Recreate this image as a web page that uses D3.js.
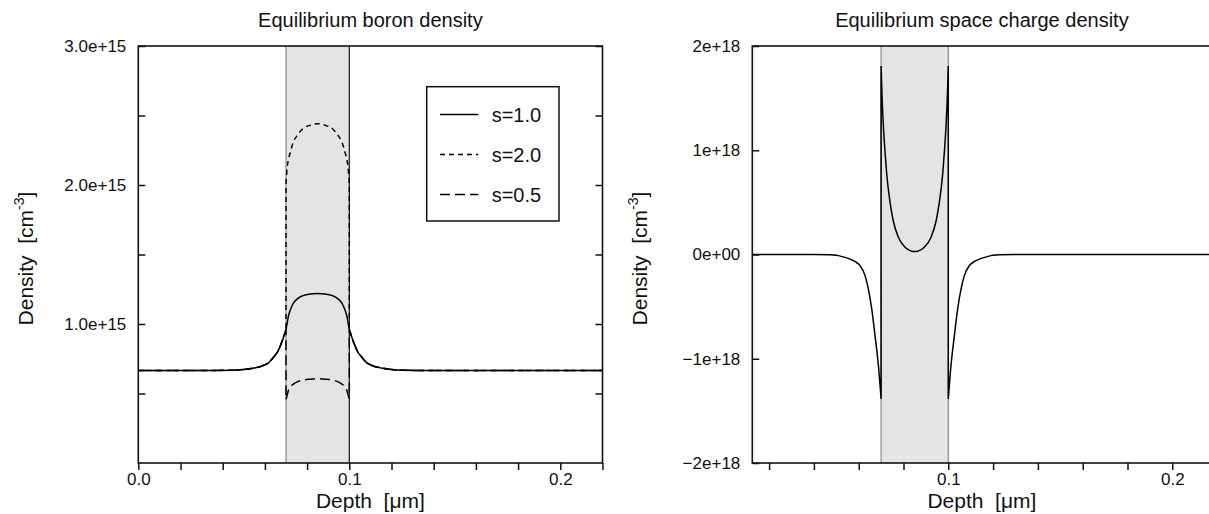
<!DOCTYPE html>
<html>
<head>
<meta charset="utf-8">
<script src="https://cdn.jsdelivr.net/npm/d3@7"></script>
<style>
  body { margin: 0; background: #fff; }
  svg text { font-family: "Liberation Sans", Arial, sans-serif; fill: #111; }
</style>
</head>
<body>
<div id="chart"></div>
<script>
// depth of the doped layer [um]
const layerEdges = [0.07, 0.1];

// shared profile outside the layer (all s coincide there), density in cm^-3
const outLeftDepth = [0, 0.03, 0.045, 0.05, 0.055, 0.059, 0.062, 0.064, 0.066, 0.068, 0.07];
const outLeftBoron = [0.665e15, 0.665e15, 0.668e15, 0.673e15, 0.684e15, 0.70e15, 0.725e15, 0.76e15, 0.80e15, 0.87e15, 0.96e15];
const outRightDepth = [0.1, 0.102, 0.104, 0.106, 0.108, 0.111, 0.115, 0.12, 0.125, 0.14, 0.22];
const outRightBoron = [0.96e15, 0.87e15, 0.80e15, 0.76e15, 0.725e15, 0.70e15, 0.684e15, 0.673e15, 0.668e15, 0.665e15, 0.665e15];

// inside the layer
const inDepth = [0.07, 0.0706, 0.0711, 0.0719, 0.0735, 0.0755, 0.078, 0.0815, 0.085, 0.0885, 0.092, 0.0945, 0.0965, 0.0981, 0.0989, 0.0994, 0.1];
const inBoronS1 = [0.96e15, 1.01e15, 1.054e15, 1.095e15, 1.15e15, 1.183e15, 1.204e15, 1.216e15, 1.219e15, 1.216e15, 1.204e15, 1.183e15, 1.15e15, 1.095e15, 1.054e15, 1.01e15, 0.96e15];
const inBoronS2 = [2.013e15, 2.132e15, 2.18e15, 2.228e15, 2.31e15, 2.36e15, 2.405e15, 2.43e15, 2.44e15, 2.43e15, 2.405e15, 2.36e15, 2.31e15, 2.228e15, 2.18e15, 2.132e15, 2.013e15];
const inBoronS05 = [0.455e15, 0.49e15, 0.52e15, 0.545e15, 0.568e15, 0.585e15, 0.597e15, 0.603e15, 0.606e15, 0.603e15, 0.597e15, 0.585e15, 0.568e15, 0.545e15, 0.52e15, 0.49e15, 0.465e15];

const seriesNames = ["s=1.0", "s=2.0", "s=0.5"];

// space charge density, cm^-3
const chLeftDepth = [0, 0.04, 0.0472, 0.0546, 0.0583, 0.0606, 0.0628, 0.0643, 0.0658, 0.0673, 0.0688, 0.07];
const chLeft = [0, -0.001e18, -0.003e18, -0.032e18, -0.067e18, -0.106e18, -0.2e18, -0.33e18, -0.52e18, -0.78e18, -1.065e18, -1.385e18];
const chInDepth = [0.07, 0.0704, 0.071, 0.0717, 0.0725, 0.074, 0.0754, 0.0777, 0.0807, 0.0837, 0.085, 0.0863, 0.0893, 0.0923, 0.0946, 0.096, 0.0975, 0.0983, 0.099, 0.0996, 0.1];
const chIn = [1.807e18, 1.53e18, 1.24e18, 1.0e18, 0.774e18, 0.50e18, 0.326e18, 0.166e18, 0.07e18, 0.032e18, 0.029e18, 0.032e18, 0.07e18, 0.166e18, 0.326e18, 0.50e18, 0.774e18, 1.0e18, 1.24e18, 1.53e18, 1.807e18];
const chRightDepth = [0.1, 0.1012, 0.1027, 0.1042, 0.1057, 0.1072, 0.1094, 0.1117, 0.1154, 0.1228, 0.13, 0.22];
const chRight = [-1.385e18, -1.065e18, -0.78e18, -0.52e18, -0.33e18, -0.2e18, -0.106e18, -0.067e18, -0.032e18, -0.003e18, -0.001e18, 0];

// ticks
const boronYTicks = [0.5e15, 1.0e15, 1.5e15, 2.0e15, 2.5e15, 3.0e15];
const boronYLabels = ["", "1.0e+15", "", "2.0e+15", "", "3.0e+15"];
const chargeYTicks = [-2e18, -1e18, 0, 1e18, 2e18];
const chargeYLabels = ["\u22122e+18", "\u22121e+18", "0e+00", "1e+18", "2e+18"];
const depthTicksLeft = [0, 0.02, 0.04, 0.06, 0.08, 0.1, 0.12, 0.14, 0.16, 0.18, 0.2, 0.22];
const depthTicksRight = [0.02, 0.04, 0.06, 0.08, 0.1, 0.12, 0.14, 0.16, 0.18, 0.2];
const depthLabels = { "0": "0.0", "0.1": "0.1", "0.2": "0.2" };

const svg = d3.select("#chart").append("svg")
  .attr("width", 1209).attr("height", 514);

const plotTop = 46, plotBottom = 463;

function joined(segs, line) {
  return segs.map((s, i) => {
    const p = line(s);
    return i ? "L" + p.slice(1) : p;
  }).join("");
}

function panel(opts) {
  const x = d3.scaleLinear().domain(opts.xDomain).range([opts.left, opts.right]);
  const y = d3.scaleLinear().domain(opts.yDomain).range([plotBottom, plotTop]);
  const g = svg.append("g");

  g.append("clipPath").attr("id", opts.id)
    .append("rect").attr("x", opts.left).attr("y", plotTop)
    .attr("width", opts.right - opts.left).attr("height", plotBottom - plotTop);

  // layer shading
  g.append("rect")
    .attr("x", x(layerEdges[0])).attr("y", plotTop)
    .attr("width", x(layerEdges[1]) - x(layerEdges[0]))
    .attr("height", plotBottom - plotTop)
    .attr("fill", "#e4e4e4");
  g.selectAll(".edge").data(layerEdges).join("line")
    .attr("x1", d => x(d)).attr("x2", d => x(d))
    .attr("y1", plotTop).attr("y2", plotBottom)
    .attr("stroke", (d, i) => opts.edgeColors[i]).attr("stroke-width", 1.2);

  const line = d3.line().x(d => x(d[0])).y(d => y(d[1])).curve(d3.curveMonotoneX);
  opts.series.forEach(s => {
    g.append("path")
      .attr("clip-path", `url(#${opts.id})`)
      .attr("d", joined(s.segs, line))
      .attr("fill", "none")
      .attr("stroke", "#000")
      .attr("stroke-width", 1.5)
      .attr("stroke-dasharray", s.dash);
  });

  // frame
  g.append("rect")
    .attr("x", opts.left).attr("y", plotTop)
    .attr("width", opts.right - opts.left).attr("height", plotBottom - plotTop)
    .attr("fill", "none").attr("stroke", "#111").attr("stroke-width", 1.6);

  const ax = g.append("g").attr("transform", `translate(0,${plotBottom})`)
    .call(d3.axisBottom(x).tickValues(opts.xTicks).tickSizeInner(7).tickSizeOuter(0).tickPadding(3)
      .tickFormat(d => depthLabels[String(+d.toFixed(2))] || ""));
  const ay = g.append("g").attr("transform", `translate(${opts.left},0)`)
    .call(d3.axisLeft(y).tickValues(opts.yTicks).tickSizeInner(-7).tickSizeOuter(0).tickPadding(12)
      .tickFormat((d, i) => opts.yLabels[i]));
  [ax, ay].forEach(a => {
    a.select(".domain").remove();
    a.selectAll("line").attr("stroke", "#111").attr("stroke-width", 1.5);
    a.selectAll("text").style("font-size", "17px")
      .style("font-family", "'Liberation Sans', Arial, sans-serif").attr("fill", "#111");
  });
  if (opts.rightTicks) {
    const ar = g.append("g").attr("transform", `translate(${opts.right},0)`)
      .call(d3.axisRight(y).tickValues(opts.yTicks).tickSizeInner(-7).tickSizeOuter(0).tickFormat(""));
    ar.select(".domain").remove();
    ar.selectAll("line").attr("stroke", "#111").attr("stroke-width", 1.5);
  }

  const cx = (opts.left + opts.right) / 2;
  g.append("text").attr("x", cx).attr("y", 27).attr("text-anchor", "middle")
    .style("font-size", "20px").text(opts.title);
  g.append("text").attr("x", cx).attr("y", 508).attr("text-anchor", "middle")
    .style("font-size", "21px").style("white-space", "pre").attr("xml:space", "preserve")
    .text("Depth  [\u03bcm]");

  const yl = g.append("text")
    .attr("transform", `translate(${opts.left - 105},${(plotTop + plotBottom) / 2 + 4}) rotate(-90)`)
    .attr("text-anchor", "middle").attr("xml:space", "preserve")
    .style("font-size", "21px");
  yl.append("tspan").text("Density  [cm");
  yl.append("tspan").attr("dy", -9).style("font-size", "14px").text("-3");
  yl.append("tspan").attr("dy", 9).text("]");

  return { g, x, y };
}

const dashes = [null, "5,4", "10,5"];
const outL = d3.zip(outLeftDepth, outLeftBoron);
const outR = d3.zip(outRightDepth, outRightBoron);
const boronInside = [inBoronS1, inBoronS2, inBoronS05];

const boronPanel = panel({
  id: "clipL", left: 138.3, right: 602.5, xDomain: [0, 0.22], yDomain: [0, 3e15],
  title: "Equilibrium boron density",
  edgeColors: ["#888", "#111"],
  xTicks: depthTicksLeft, yTicks: boronYTicks, yLabels: boronYLabels, rightTicks: true,
  series: boronInside.map((v, i) => ({
    dash: dashes[i],
    segs: [outL, d3.zip(inDepth, v), outR]
  }))
});

// legend
const lg = boronPanel.g.append("g");
lg.append("rect").attr("x", 426.7).attr("y", 86.7).attr("width", 132.3).attr("height", 134.3)
  .attr("fill", "#fff").attr("stroke", "#111").attr("stroke-width", 1.5);
seriesNames.forEach((name, i) => {
  const yy = 114.5 + i * 40;
  lg.append("line").attr("x1", 440).attr("x2", 478.3).attr("y1", yy).attr("y2", yy)
    .attr("stroke", "#000").attr("stroke-width", 1.5).attr("stroke-dasharray", dashes[i]);
  lg.append("text").attr("x", 491.7).attr("y", yy + 7).style("font-size", "20px").text(name);
});

panel({
  id: "clipR", left: 752.3, right: 1211.5, xDomain: [0.0125, 0.2175], yDomain: [-2e18, 2e18],
  title: "Equilibrium space charge density",
  edgeColors: ["#888", "#888"],
  xTicks: depthTicksRight, yTicks: chargeYTicks, yLabels: chargeYLabels, rightTicks: false,
  series: [{
    dash: null,
    segs: [d3.zip(chLeftDepth, chLeft), d3.zip(chInDepth, chIn), d3.zip(chRightDepth, chRight)]
  }]
});
</script>
</body>
</html>
